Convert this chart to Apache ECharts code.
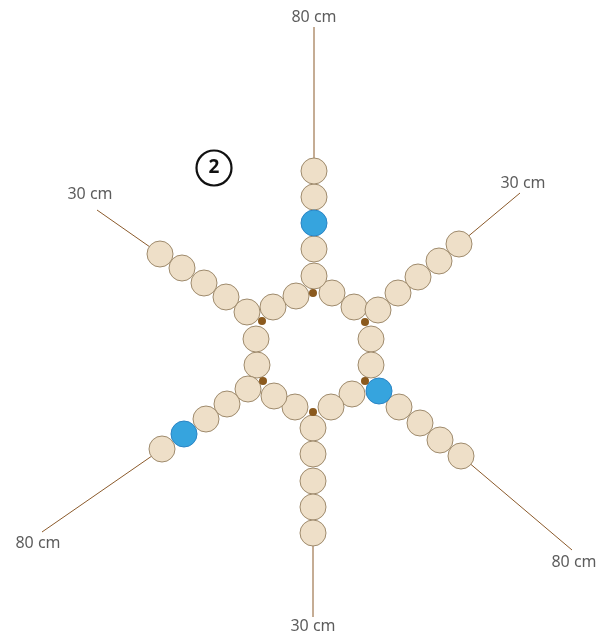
<!DOCTYPE html>
<html>
<head>
<meta charset="utf-8">
<script src="https://cdn.jsdelivr.net/npm/echarts@6/dist/echarts.min.js"></script>
<style>html,body{margin:0;padding:0;background:#fff}#c{width:613px;height:639px}</style>
</head>
<body>
<div id="c"></div>
<script>
// Diagram coordinates (diagram units, y grows downward)
const knots = [[313,293],[365,322],[365,381],[313,412],[263,381],[262,321]];
const hexBeads = [[332,293],[354,307],[371,339],[371,365],[352,394],[331,407],
                  [295,407],[274,396],[257,365],[256,339],[273,307],[296,296]];
// arms: top, upper-right, lower-right, bottom, lower-left, upper-left (from knot outward)
const armTop    = [[314,276],[314,249],[314,223],[314,197],[314,171]];
const armUR     = [[378,310],[398,293],[418,277],[439,261],[459,244]];
const armLR     = [[379,391],[399,407],[420,423],[440,440],[461,456]];
const armBottom = [[313,428],[313,454],[313,481],[313,507],[313,533]];
const armLL     = [[248,389],[227,404],[206,419],[184,434],[162,449]];
const armUL     = [[247,312],[226,297],[204,283],[182,268],[160,254]];
const blueBeads = [[314,223],[379,391],[184,434]];
const stringEnds = [[314,27],[520,193],[572,550],[313,617],[42,532],[97,210]];
const lengthLabels = ['80 cm','30 cm','80 cm','30 cm','80 cm','30 cm'];
const labelPos = [[314,17],[523,183],[574,562],[313,626],[38,543],[90,194]];
const stepLabel = ['2'];
const stepPos = [[214,168]];

const arms = [armTop, armUR, armLR, armBottom, armLL, armUL];
const isBlue = p => blueBeads.some(b => b[0]===p[0] && b[1]===p[1]);
const allBeads = hexBeads.concat(...arms);
const tanBeads = allBeads.filter(p => !isBlue(p));

const stringSeries = arms.map((arm, i) => ({
  type: 'line', silent: true, symbol: 'none', z: 1,
  data: [arm[arm.length-1], stringEnds[i]],
  lineStyle: { color: '#8b5a2b', width: 1 }
}));

const chart = echarts.init(document.getElementById('c'));
chart.setOption({
  animation: false,
  grid: { left: 0, right: 0, top: 0, bottom: 0 },
  xAxis: { type: 'value', min: 0, max: 613, show: false },
  yAxis: { type: 'value', min: 0, max: 639, inverse: true, show: false },
  series: stringSeries.concat([
    { type: 'scatter', silent: true, z: 3, symbol: 'circle', symbolSize: 26,
      data: tanBeads,
      itemStyle: { color: '#eedfc8', borderColor: '#9e8a6c', borderWidth: 1, opacity: 1 } },
    { type: 'scatter', silent: true, z: 3, symbol: 'circle', symbolSize: 26,
      data: blueBeads,
      itemStyle: { color: '#36a4de', borderColor: '#2a84c4', borderWidth: 1, opacity: 1 } },
    { type: 'scatter', silent: true, z: 4, symbol: 'circle', symbolSize: 8,
      data: knots,
      itemStyle: { color: '#8b5a1e', opacity: 1 } },
    { type: 'scatter', silent: true, z: 5, symbolSize: 1,
      data: labelPos.map((p, i) => [p[0], p[1], lengthLabels[i]]),
      itemStyle: { color: 'rgba(0,0,0,0)' },
      label: { show: true, position: 'inside', formatter: d => d.value[2],
               color: '#333', fontFamily: 'Noto Sans', fontSize: 16 } },
    { type: 'scatter', silent: true, z: 5, symbol: 'circle', symbolSize: 35,
      data: stepPos.map((p, i) => [p[0], p[1], stepLabel[i]]),
      itemStyle: { color: '#fff', borderColor: '#111', borderWidth: 2.2, opacity: 1 },
      label: { show: true, position: 'inside', formatter: d => d.value[2],
               color: '#111', fontFamily: 'Noto Sans', fontWeight: 'bold', fontSize: 19 } }
  ])
});
</script>
</body>
</html>
